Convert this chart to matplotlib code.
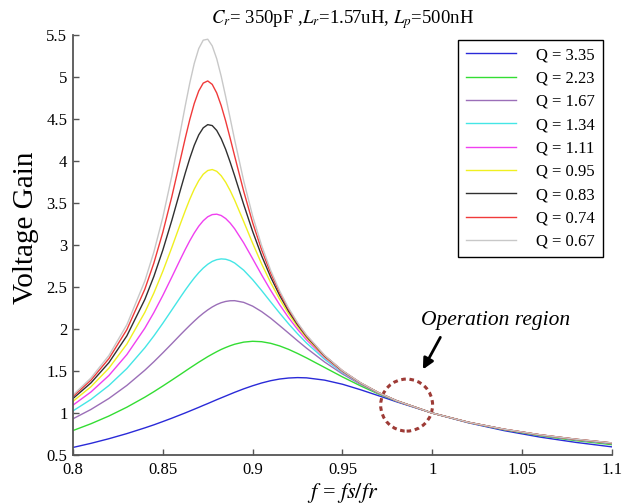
import matplotlib
matplotlib.use("Agg")
import matplotlib.pyplot as plt
from matplotlib.patches import Ellipse
from matplotlib.ticker import FuncFormatter

plt.rcParams['font.family'] = ['Liberation Serif', 'DejaVu Serif']
plt.rcParams['mathtext.fontset'] = 'stix'

# normalised switching frequency
f = [0.80, 0.81, 0.82, 0.83, 0.84, 0.845, 0.85, 0.855, 0.86, 0.8625, 0.865, 0.8675,
     0.87, 0.8725, 0.875, 0.8775, 0.88, 0.8825, 0.885, 0.8875, 0.89, 0.895, 0.90,
     0.905, 0.91, 0.915, 0.92, 0.925, 0.93, 0.94, 0.95, 0.96, 0.97, 0.98,
     1.00, 1.02, 1.04, 1.06, 1.08, 1.10]

# voltage gain
g_335 = [0.591, 0.640, 0.695, 0.756, 0.824, 0.860, 0.899, 0.939, 0.981, 1.002, 1.024, 1.046,
         1.068, 1.091, 1.113, 1.136, 1.159, 1.181, 1.203, 1.225, 1.247, 1.288, 1.325,
         1.358, 1.385, 1.405, 1.417, 1.422, 1.419, 1.392, 1.343, 1.278, 1.207, 1.135,
         1.000, 0.885, 0.791, 0.714, 0.651, 0.598]
g_223 = [0.792, 0.873, 0.965, 1.070, 1.189, 1.254, 1.322, 1.392, 1.463, 1.499, 1.535, 1.570,
         1.605, 1.638, 1.671, 1.701, 1.730, 1.757, 1.780, 1.801, 1.819, 1.844, 1.854,
         1.849, 1.830, 1.799, 1.758, 1.709, 1.656, 1.543, 1.430, 1.324, 1.228, 1.143,
         1.000, 0.889, 0.801, 0.730, 0.672, 0.624]
g_167 = [0.932, 1.043, 1.174, 1.329, 1.510, 1.610, 1.716, 1.825, 1.936, 1.990, 2.043, 2.094,
         2.143, 2.187, 2.227, 2.262, 2.291, 2.313, 2.328, 2.336, 2.337, 2.317, 2.272,
         2.207, 2.129, 2.041, 1.951, 1.860, 1.772, 1.608, 1.465, 1.342, 1.236, 1.145,
         1.000, 0.890, 0.804, 0.736, 0.680, 0.634]
g_134 = [1.026, 1.162, 1.328, 1.530, 1.777, 1.917, 2.068, 2.226, 2.385, 2.463, 2.537, 2.607,
         2.670, 2.725, 2.770, 2.804, 2.825, 2.834, 2.830, 2.813, 2.785, 2.700, 2.587,
         2.458, 2.323, 2.190, 2.062, 1.943, 1.833, 1.641, 1.482, 1.350, 1.239, 1.147,
         1.000, 0.890, 0.806, 0.738, 0.684, 0.639]
g_111 = [1.094, 1.251, 1.447, 1.696, 2.010, 2.195, 2.399, 2.617, 2.839, 2.947, 3.049, 3.142,
         3.223, 3.288, 3.335, 3.361, 3.366, 3.350, 3.314, 3.260, 3.192, 3.025, 2.836,
         2.644, 2.461, 2.290, 2.135, 1.996, 1.871, 1.661, 1.491, 1.354, 1.241, 1.147,
         1.000, 0.891, 0.807, 0.740, 0.686, 0.641]
g_095 = [1.140, 1.313, 1.534, 1.821, 2.198, 2.427, 2.686, 2.969, 3.264, 3.407, 3.543, 3.664,
         3.765, 3.841, 3.885, 3.897, 3.876, 3.823, 3.745, 3.646, 3.532, 3.279, 3.020,
         2.775, 2.553, 2.355, 2.181, 2.028, 1.894, 1.672, 1.497, 1.357, 1.243, 1.148,
         1.000, 0.891, 0.807, 0.741, 0.687, 0.643]
g_083 = [1.173, 1.359, 1.600, 1.919, 2.352, 2.624, 2.938, 3.291, 3.669, 3.855, 4.030, 4.185,
         4.309, 4.393, 4.431, 4.420, 4.362, 4.264, 4.136, 3.984, 3.821, 3.482, 3.161,
         2.871, 2.619, 2.401, 2.212, 2.051, 1.910, 1.680, 1.501, 1.359, 1.243, 1.148,
         1.000, 0.891, 0.807, 0.741, 0.688, 0.644]
g_074 = [1.197, 1.392, 1.648, 1.993, 2.474, 2.783, 3.150, 3.573, 4.037, 4.270, 4.491, 4.683,
         4.832, 4.925, 4.951, 4.910, 4.808, 4.657, 4.473, 4.268, 4.056, 3.640, 3.265,
         2.941, 2.666, 2.432, 2.234, 2.066, 1.920, 1.685, 1.504, 1.360, 1.244, 1.148,
         1.000, 0.891, 0.808, 0.742, 0.689, 0.645]
g_067 = [1.215, 1.417, 1.685, 2.051, 2.571, 2.914, 3.328, 3.819, 4.373, 4.656, 4.925, 5.159,
         5.336, 5.436, 5.447, 5.368, 5.215, 5.006, 4.763, 4.506, 4.248, 3.764, 3.344,
         2.992, 2.700, 2.455, 2.250, 2.076, 1.928, 1.689, 1.505, 1.361, 1.244, 1.148,
         1.000, 0.891, 0.808, 0.742, 0.689, 0.645]

labels = ['Q = 3.35', 'Q = 2.23', 'Q = 1.67', 'Q = 1.34', 'Q = 1.11',
          'Q = 0.95', 'Q = 0.83', 'Q = 0.74', 'Q = 0.67']
series = [g_335, g_223, g_167, g_134, g_111, g_095, g_083, g_074, g_067]
colors = ['#2a2ad8', '#33dd33', '#9b6fb8', '#44e6e6', '#f040f0',
          '#f0f020', '#303030', '#f03a3a', '#c8c8c8']

xticks = [0.8, 0.85, 0.9, 0.95, 1.0, 1.05, 1.1]
yticks = [0.5, 1, 1.5, 2, 2.5, 3, 3.5, 4, 4.5, 5, 5.5]

fig = plt.figure(figsize=(6.29, 5.04), dpi=100)
ax = fig.add_axes([0.116, 0.097, 0.857, 0.834])

for g, c, lab in zip(series, colors, labels):
    ax.plot(f, g, color=c, lw=1.0, label=lab)

ax.set_xlim(0.8, 1.1)
ax.set_ylim(0.5, 5.5)
ax.set_xticks(xticks)
ax.set_yticks(yticks)
fmt = FuncFormatter(lambda v, p: '%g' % v)
ax.xaxis.set_major_formatter(fmt)
ax.yaxis.set_major_formatter(fmt)
ax.tick_params(direction='in', length=4, width=1, color='#555555', labelsize=12)
ax.tick_params(axis='x', pad=5)
ax.tick_params(axis='y', pad=4)
for s in ['top', 'right']:
    ax.spines[s].set_visible(False)
for s in ['left', 'bottom']:
    ax.spines[s].set_color('#555555')
    ax.spines[s].set_linewidth(1.3)

ax.set_ylabel('Voltage Gain', fontsize=21)
ax.yaxis.set_label_coords(-0.063, 0.54)
ax.set_xlabel('$f$ = $fs/fr$', fontsize=16, labelpad=2)
ax.set_title('$C_r$= 350pF ,$L_r$=1.57uH, $L_p$=500nH', fontsize=13.5, pad=8)

leg = ax.legend(loc='upper right', bbox_to_anchor=(0.983, 0.988),
                borderaxespad=0, fontsize=12, handlelength=3.05,
                handletextpad=1.2, labelspacing=0.44, fancybox=False,
                edgecolor='black', framealpha=1, borderpad=0.45)
leg.get_frame().set_linewidth(1.0)

# operation region marker
ax.add_patch(Ellipse((0.9857, 1.095), 0.0289, 0.619, fill=False,
                     edgecolor='#9e3b36', lw=2.2, ls=(0, (1.5, 1.2))))
ax.annotate('', xy=(0.994, 1.49), xytext=(1.0052, 1.93),
            arrowprops=dict(arrowstyle='-|>', color='black', lw=2,
                            mutation_scale=16))
ax.text(1.0354, 2.107, 'Operation region', fontsize=15.5, style='italic',
        ha='center', va='center')

fig.savefig('out.png', dpi=100)
